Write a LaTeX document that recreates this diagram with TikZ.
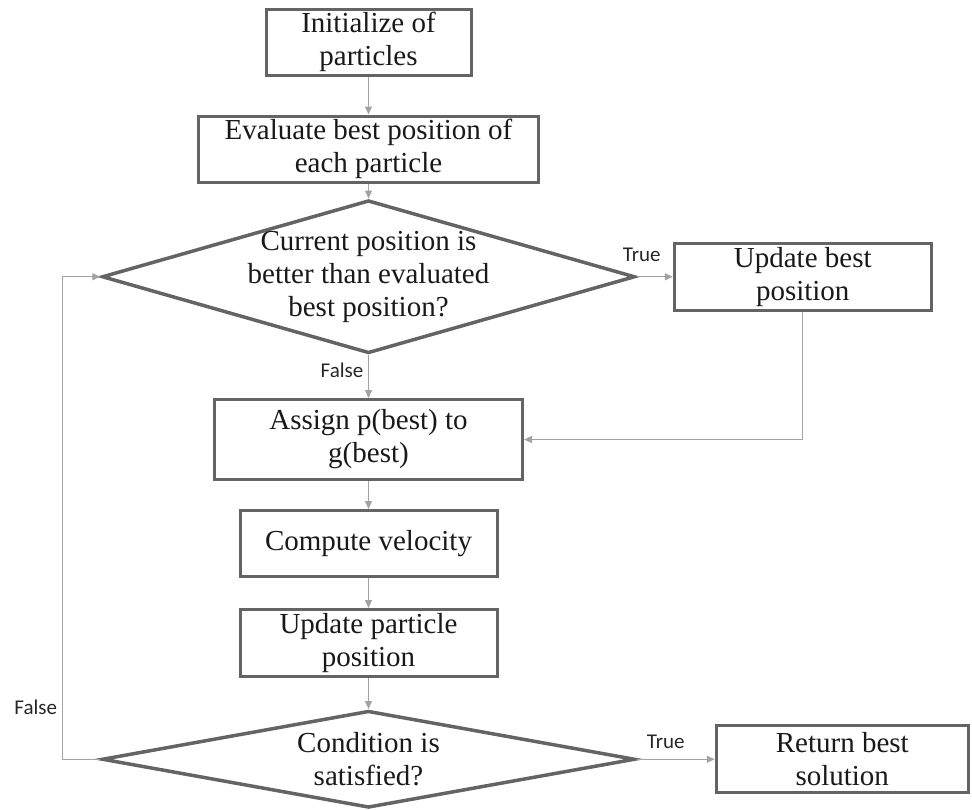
\documentclass[tikz,border=0pt]{standalone}
\usepackage{fontspec}
\setmainfont{Liberation Serif}
\newfontfamily\labelfont{Carlito}
\usetikzlibrary{positioning,shapes.geometric,arrows.meta}

\definecolor{boxgray}{HTML}{646464}
\definecolor{linegray}{HTML}{A3A3A3}

\tikzset{
  process/.style={draw=boxgray, line width=3pt, rectangle, align=center,
    inner sep=0pt, minimum height=66pt, text=black!90,
    font=\fontsize{29}{33}\selectfont},
  decision/.style={draw=boxgray, line width=3.5pt, diamond, align=center,
    inner xsep=-60pt, inner ysep=-30pt, aspect=3.5, minimum width=533pt,
    text=black!90, font=\fontsize{29}{33}\selectfont},
  flow/.style={draw=linegray, line width=1.4pt,
    -{Triangle[length=8pt,width=7pt]}},
  edgetext/.style={inner sep=1pt, text=black!85,
    font=\labelfont\fontsize{21}{24}\selectfont},
}

\begin{document}
\begin{tikzpicture}
  \useasboundingbox (0,0) rectangle (972pt,-809pt);

  % main column
  \node[process, minimum width=205pt] (init) at (368.5pt,-42pt) {Initialize of\\particles};
  \node[process, minimum width=340pt, below=38pt of init] (evalbest) {Evaluate best position of\\each particle};
  \node[decision, minimum height=153pt, below=15pt of evalbest] (better) {Current position is\\better than evaluated\\best position?};
  \node[process, minimum width=308pt, minimum height=80pt, below=43pt of better] (assign) {Assign p(best) to\\g(best)};
  \node[process, minimum width=257pt, below=28pt of assign] (velocity) {Compute velocity};
  \node[process, minimum width=257pt, minimum height=67pt, below=30pt of velocity] (updpos) {Update particle\\position};
  \node[decision, minimum height=97pt, below=31pt of updpos] (satisfied) {Condition is\\satisfied?};

  % side boxes
  \node[process, minimum width=257pt, minimum height=67pt, right=36pt of better] (updbest) {Update best\\position};
  \node[process, minimum width=252pt, minimum height=67pt, right=78pt of satisfied] (retbest) {Return best\\solution};

  % loop back
  \coordinate[left=38pt of satisfied.west] (back);

  \draw[flow] (init) -- (evalbest);
  \draw[flow] (evalbest) -- (better);
  \draw[flow] (better) -- (assign);
  \draw[flow] (better) -- (updbest);
  \draw[flow] (updbest.south) |- (assign.east);
  \draw[flow] (assign) -- (velocity);
  \draw[flow] (velocity) -- (updpos);
  \draw[flow] (updpos) -- (satisfied);
  \draw[flow] (satisfied) -- (retbest);
  \draw[flow] (satisfied.west) -- (back) |- (better.west);

  % branch labels
  \node[edgetext, above=14pt of better.east, xshift=5pt] (t1) {True};
  \node[edgetext, below left=7pt and 4pt of better.south] (f1) {False};
  \node[edgetext, above right=9pt and 9pt of satisfied.east] (t2) {True};
  \node[edgetext, above left=43pt and 4pt of back] (f2) {False};
\end{tikzpicture}
\end{document}
